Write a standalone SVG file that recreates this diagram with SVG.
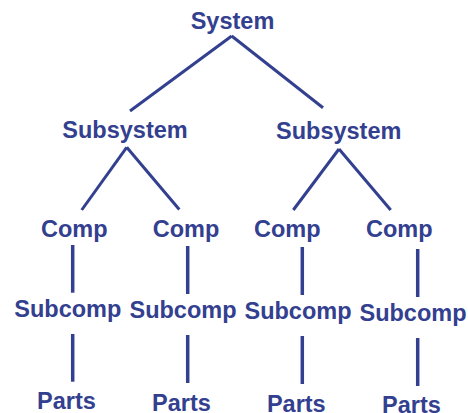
<svg xmlns="http://www.w3.org/2000/svg" width="468" height="413" viewBox="0 0 468 413">
<style>
text{font-family:"Liberation Sans",Arial,sans-serif;font-weight:bold;font-size:23.5px;fill:#33408F;text-anchor:middle}
.c line{stroke:#33408F;stroke-width:3;stroke-linecap:butt}
</style>
<rect width="468" height="413" fill="#fff"/>
<g class="c" id="connectors">
<line x1="231.7" y1="36" x2="130" y2="111"/>
<line x1="231.7" y1="36" x2="323" y2="107.7"/>
<line x1="126.7" y1="147.3" x2="81.7" y2="210"/>
<line x1="126.7" y1="147.3" x2="179.3" y2="209.5"/>
<line x1="339" y1="149" x2="293.3" y2="210"/>
<line x1="339" y1="149" x2="390.7" y2="210"/>
<line x1="72.7" y1="245" x2="72.7" y2="292.7" style="stroke-width:3.5"/>
<line x1="187.7" y1="246" x2="187.7" y2="294" style="stroke-width:3.5"/>
<line x1="302.3" y1="247" x2="302.3" y2="295" style="stroke-width:3.5"/>
<line x1="417.7" y1="249" x2="417.7" y2="297" style="stroke-width:3.5"/>
<line x1="72.7" y1="334" x2="72.7" y2="381.7" style="stroke-width:3.5"/>
<line x1="187.7" y1="335" x2="187.7" y2="383" style="stroke-width:3.5"/>
<line x1="302.3" y1="336" x2="302.3" y2="384" style="stroke-width:3.5"/>
<line x1="417.7" y1="338" x2="417.7" y2="386" style="stroke-width:3.5"/>
</g>
<g id="system"><text x="232.5" y="29.3">System</text></g>
<g id="subsystem1"><text x="125" y="138">Subsystem</text></g>
<g id="subsystem2"><text x="338.7" y="138.5">Subsystem</text></g>
<g id="comp1"><text x="74.2" y="236.7">Comp</text></g>
<g id="comp2"><text x="186" y="236.7">Comp</text></g>
<g id="comp3"><text x="287.3" y="237">Comp</text></g>
<g id="comp4"><text x="399.3" y="237">Comp</text></g>
<g id="subcomp1"><text x="67.8" y="317.3">Subcomp</text></g>
<g id="subcomp2"><text x="183" y="318.3">Subcomp</text></g>
<g id="subcomp3"><text x="298" y="319.3">Subcomp</text></g>
<g id="subcomp4"><text x="413" y="321">Subcomp</text></g>
<g id="parts1"><text x="66.5" y="409.3">Parts</text></g>
<g id="parts2"><text x="181.5" y="410.7">Parts</text></g>
<g id="parts3"><text x="296.3" y="411.7">Parts</text></g>
<g id="parts4"><text x="411.5" y="413">Parts</text></g>
</svg>
